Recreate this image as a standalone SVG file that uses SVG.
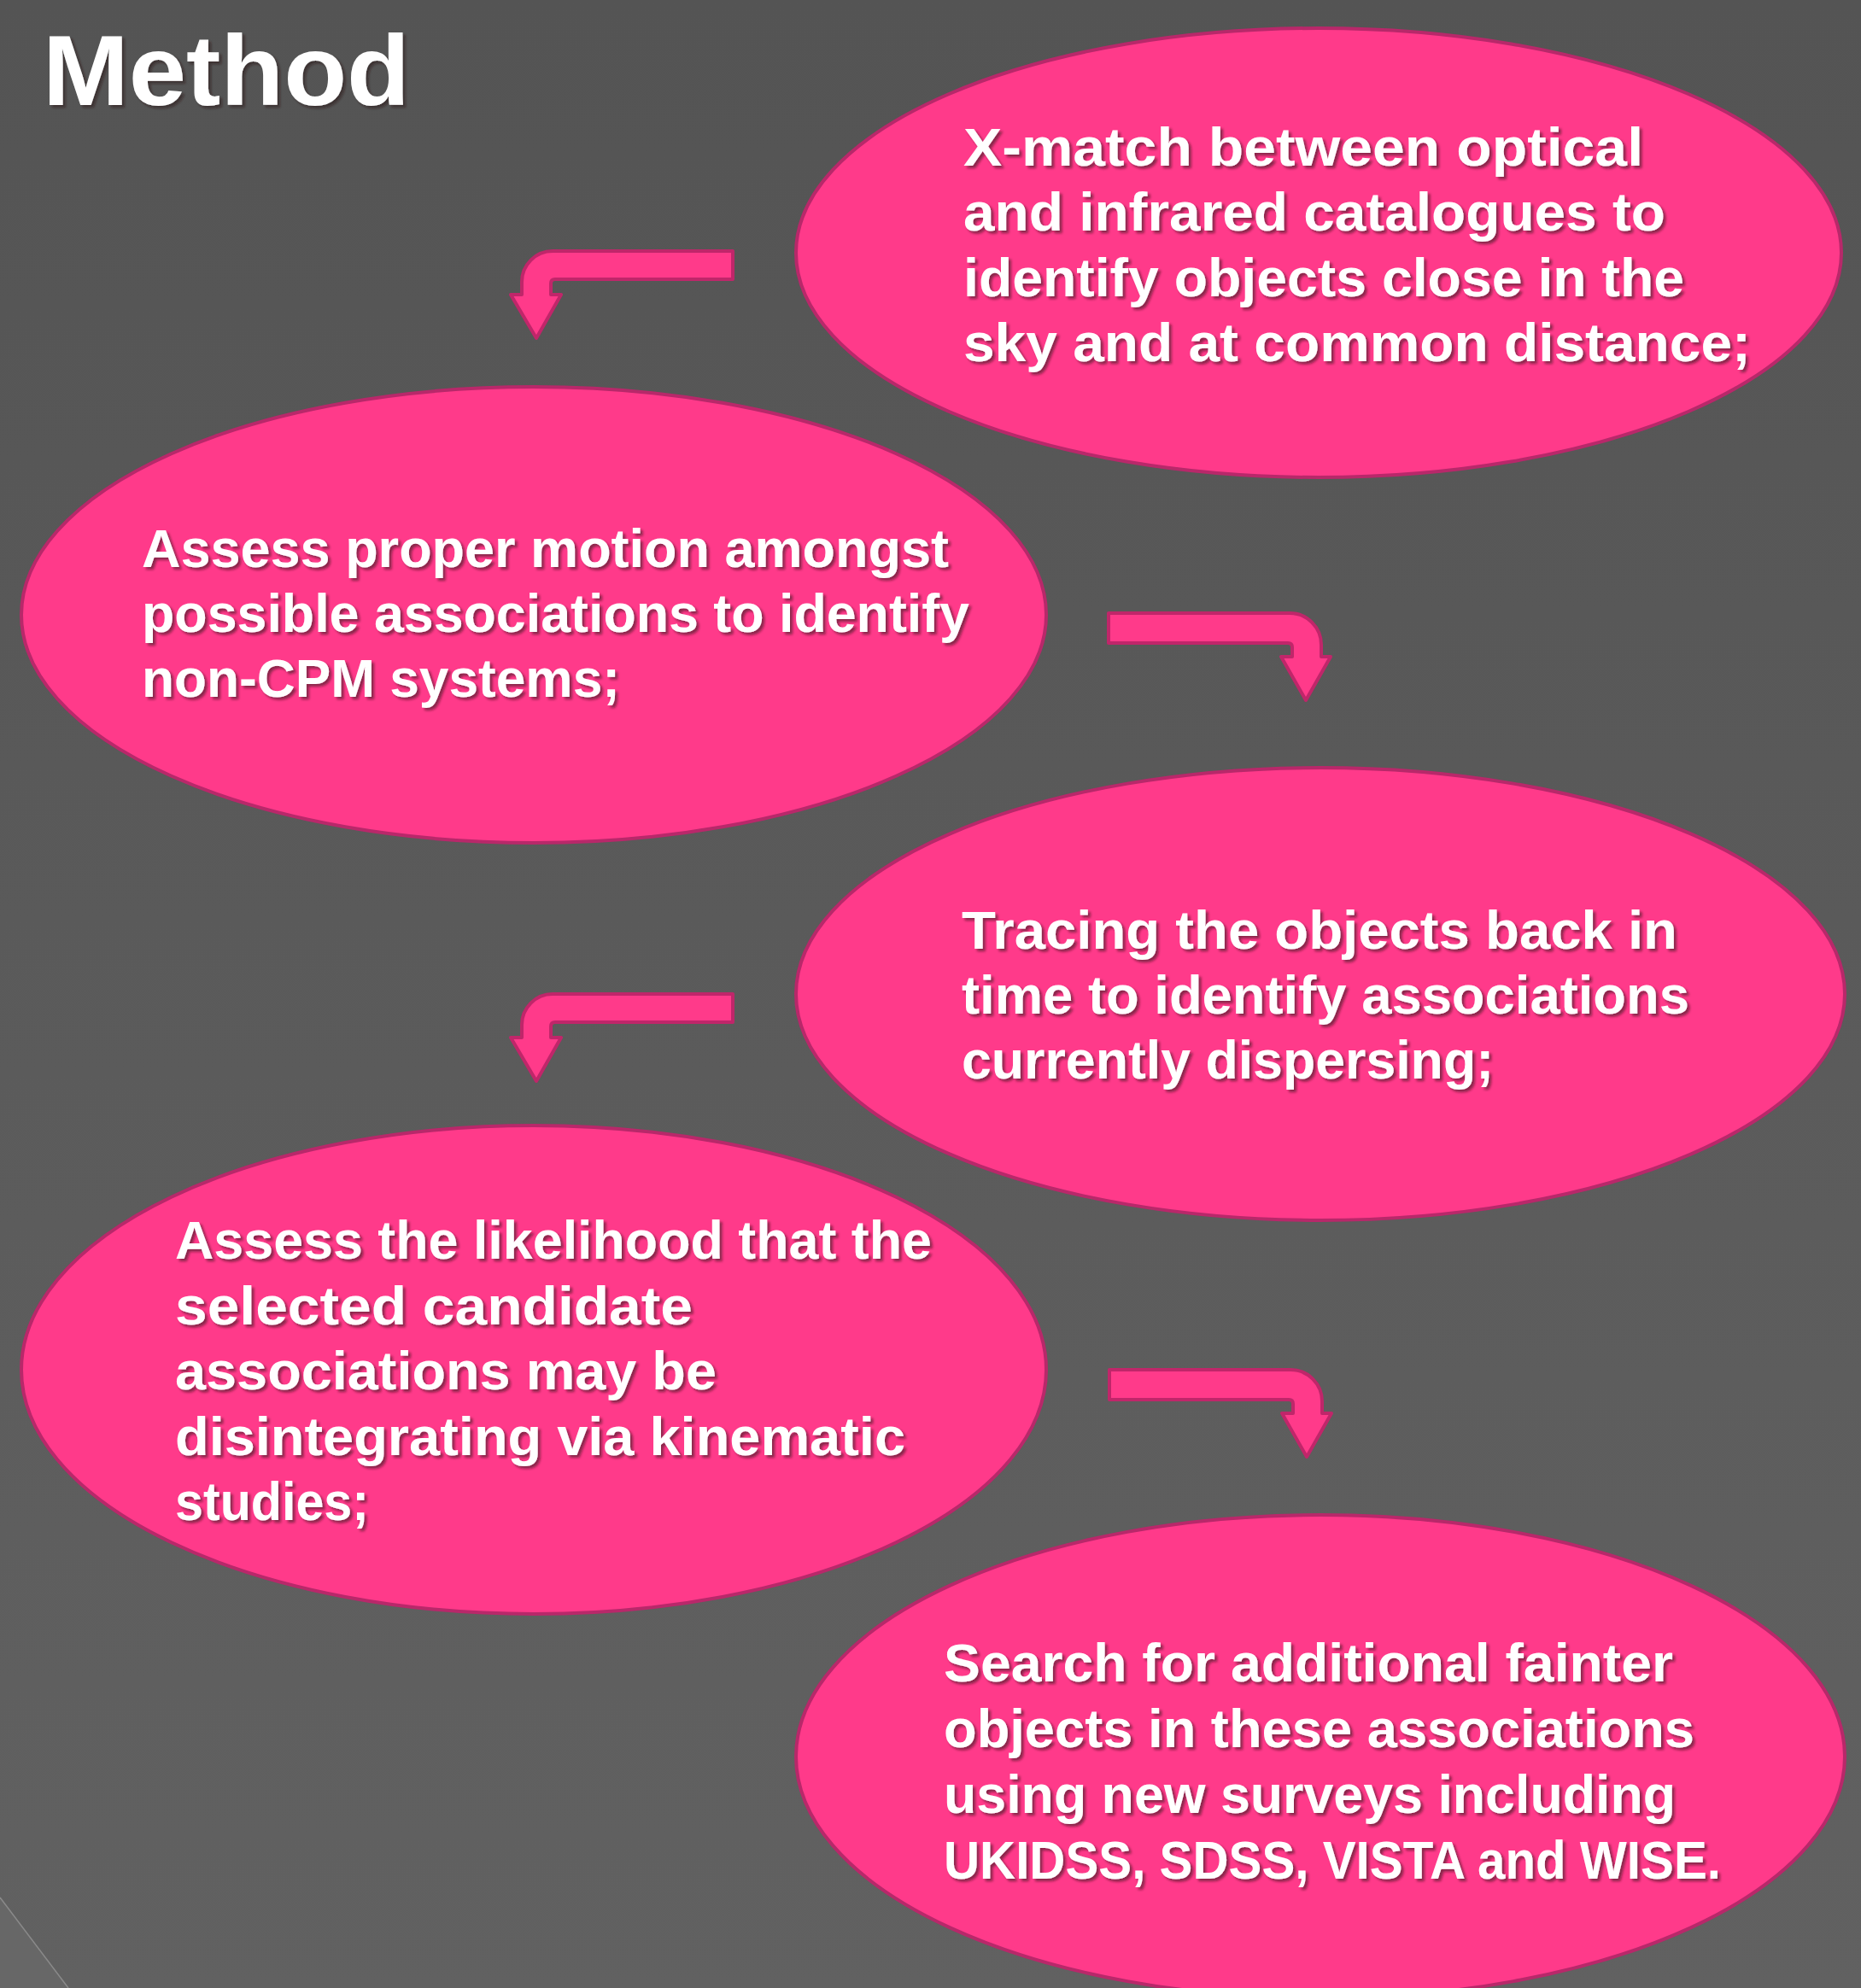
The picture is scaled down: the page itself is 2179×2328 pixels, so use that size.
<svg xmlns="http://www.w3.org/2000/svg" width="2179" height="2328" viewBox="0 0 2179 2328">
  <defs>
    <linearGradient id="bg" x1="0" y1="0" x2="0" y2="1">
      <stop offset="0" stop-color="#545454"/>
      <stop offset="1" stop-color="#616161"/>
    </linearGradient>
    <filter id="shadow" x="-5%" y="-20%" width="110%" height="150%">
      <feDropShadow dx="3" dy="3" stdDeviation="1.5" flood-color="#2a0a18" flood-opacity="0.55"/>
    </filter>
    <path id="arrowLeft" d="M 858 294 L 647 294 A 36 36 0 0 0 611 330 L 611 345 L 598 345 L 628 396 L 657 345 L 645 345 L 645 332 Q 645 327 650 327 L 858 327 Z"/>
    <path id="arrowRight" d="M 1298 718 L 1510 718 A 37 37 0 0 1 1547 755 L 1547 769 L 1558 769 L 1529 820 L 1500 769 L 1513 769 L 1513 758 Q 1513 753 1508 753 L 1298 753 Z"/>
  </defs>
  <style>
    .node ellipse { fill: #ff3a8a; stroke: #b8286a; stroke-width: 4; }
    .node text, .title { font-family: "Liberation Sans", Arial, sans-serif; font-weight: bold; fill: #ffffff; filter: url(#shadow); }
    .node text { font-size: 63px; }
    .title { font-size: 117px; }
    .arrow { fill: #ff3a8a; stroke: #c0266a; stroke-width: 4; stroke-linejoin: round; }
  </style>

  <rect x="0" y="0" width="2179" height="2328" fill="url(#bg)"/>
  <polygon points="0,2222 80,2328 0,2328" fill="#676767"/>
  <line x1="0" y1="2222" x2="80" y2="2328" stroke="#8a8a8a" stroke-width="1.5"/>

  <text class="title" x="50" y="123" textLength="430" lengthAdjust="spacingAndGlyphs">Method</text>

  <g id="connectors">
    <use href="#arrowLeft" class="arrow"/>
    <use href="#arrowRight" class="arrow"/>
    <use href="#arrowLeft" class="arrow" transform="translate(0,870)"/>
    <use href="#arrowRight" class="arrow" transform="translate(1,886)"/>
  </g>

  <g id="node1" class="node">
    <ellipse cx="1544" cy="296" rx="612" ry="263"/>
    <text x="1128" y="194" textLength="796" lengthAdjust="spacingAndGlyphs">X-match between optical</text>
    <text x="1128" y="270" textLength="822" lengthAdjust="spacingAndGlyphs">and infrared catalogues to</text>
    <text x="1128" y="347" textLength="844" lengthAdjust="spacingAndGlyphs">identify objects close in the</text>
    <text x="1128" y="423" textLength="922" lengthAdjust="spacingAndGlyphs">sky and at common distance;</text>
  </g>

  <g id="node2" class="node">
    <ellipse cx="625" cy="720" rx="600" ry="267"/>
    <text x="166" y="664" textLength="945" lengthAdjust="spacingAndGlyphs">Assess proper motion amongst</text>
    <text x="166" y="740" textLength="969" lengthAdjust="spacingAndGlyphs">possible associations to identify</text>
    <text x="166" y="816" textLength="560" lengthAdjust="spacingAndGlyphs">non-CPM systems;</text>
  </g>

  <g id="node3" class="node">
    <ellipse cx="1546" cy="1164" rx="614" ry="265"/>
    <text x="1126" y="1111" textLength="838" lengthAdjust="spacingAndGlyphs">Tracing the objects back in</text>
    <text x="1126" y="1187" textLength="852" lengthAdjust="spacingAndGlyphs">time to identify associations</text>
    <text x="1126" y="1263" textLength="623" lengthAdjust="spacingAndGlyphs">currently dispersing;</text>
  </g>

  <g id="node4" class="node">
    <ellipse cx="625" cy="1604" rx="600" ry="286"/>
    <text x="205" y="1474" textLength="886" lengthAdjust="spacingAndGlyphs">Assess the likelihood that the</text>
    <text x="205" y="1551" textLength="606" lengthAdjust="spacingAndGlyphs">selected candidate</text>
    <text x="205" y="1627" textLength="634" lengthAdjust="spacingAndGlyphs">associations may be</text>
    <text x="205" y="1704" textLength="855" lengthAdjust="spacingAndGlyphs">disintegrating via kinematic</text>
    <text x="205" y="1780" textLength="227" lengthAdjust="spacingAndGlyphs">studies;</text>
  </g>

  <g id="node5" class="node">
    <ellipse cx="1546" cy="2057" rx="614" ry="283"/>
    <text x="1105" y="1969" textLength="854" lengthAdjust="spacingAndGlyphs">Search for additional fainter</text>
    <text x="1105" y="2046" textLength="879" lengthAdjust="spacingAndGlyphs">objects in these associations</text>
    <text x="1105" y="2123" textLength="857" lengthAdjust="spacingAndGlyphs">using new surveys including</text>
    <text x="1105" y="2200" textLength="910" lengthAdjust="spacingAndGlyphs">UKIDSS, SDSS, VISTA and WISE.</text>
  </g>
</svg>
